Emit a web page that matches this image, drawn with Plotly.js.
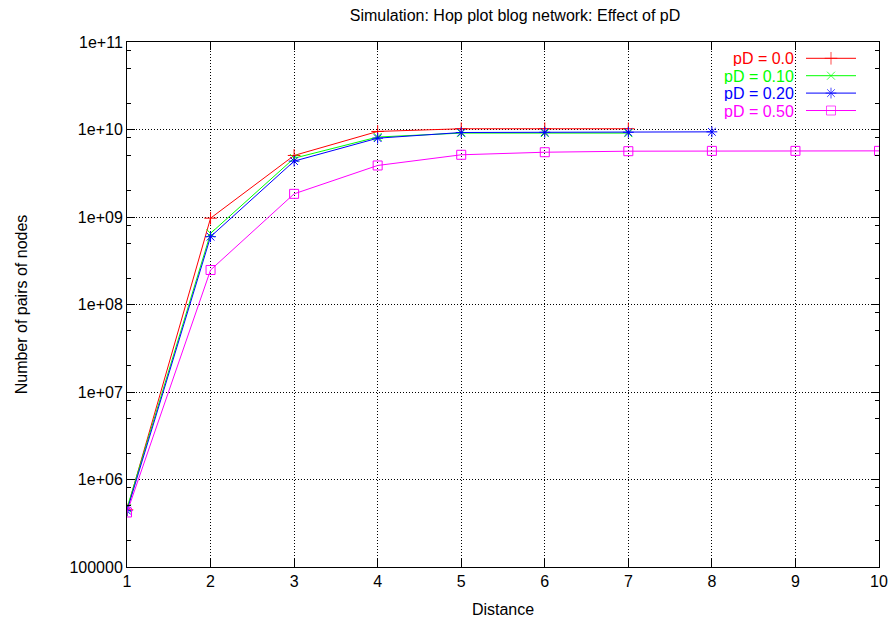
<!DOCTYPE html>
<html>
<head>
<meta charset="utf-8">
<script src="https://cdn.plot.ly/plotly-3.0.1.min.js"></script>
<style>html,body{margin:0;padding:0;background:#fff;}#chart{width:893px;height:623px;}</style>
</head>
<body>
<div id="chart"></div>
<script>
// ---- data ----
var distance = [1, 2, 3, 4, 5, 6, 7, 8, 9, 10];
var seriesNames = ['pD = 0.0', 'pD = 0.10', 'pD = 0.20', 'pD = 0.50'];
var pD000 = [4.5e5, 9.7e8, 5.05e9, 9.5e9, 1.02e10, 1.02e10, 1.02e10];
var pD010 = [4.7e5, 6.5e8, 4.7e9, 8.2e9, 9.1e9, 9.1e9, 9.1e9];
var pD020 = [4.4e5, 5.96e8, 4.35e9, 7.96e9, 9.24e9, 9.3e9, 9.3e9, 9.4e9];
var pD050 = [4.2e5, 2.48e8, 1.84e9, 3.88e9, 5.14e9, 5.5e9, 5.65e9, 5.7e9, 5.7e9, 5.7e9];
var yTickVals = [1e5, 1e6, 1e7, 1e8, 1e9, 1e10, 1e11];
var yTickText = ['100000', '1e+06', '1e+07', '1e+08', '1e+09', '1e+10', '1e+11'];
var xTickVals = [1, 2, 3, 4, 5, 6, 7, 8, 9, 10];
var minorDigits = [2, 5, 8];

// ---- styles ----
var colors = ['#ff0000', '#00ff00', '#0000ff', '#ff00ff'];
var symbols = ['cross-thin', 'x-thin', 'asterisk', 'square-open'];
var sizes = [9, 8, 9, 9];
var allSeries = [pD000, pD010, pD020, pD050];

var minorVals = [];
for (var d = 5; d < 11; d++) {
  minorDigits.forEach(function (m) { minorVals.push(m * Math.pow(10, d)); });
}

var traces = [];
allSeries.forEach(function (s, i) {
  traces.push({
    x: distance.slice(0, s.length), y: s, type: 'scatter', mode: 'lines+markers',
    name: seriesNames[i], showlegend: false,
    line: {color: colors[i], width: 1},
    marker: {symbol: symbols[i], size: sizes[i], color: colors[i],
             line: {color: colors[i], width: 1}}
  });
});

// custom legend (sample lines to the right of right-aligned labels), pixel coords on overlay axes
var legRows = [58.3, 75.7, 93.1, 110.5];
var annotations = [];
seriesNames.forEach(function (n, i) {
  traces.push({
    x: [806, 831, 856], y: [legRows[i], legRows[i], legRows[i]],
    xaxis: 'x2', yaxis: 'y2', type: 'scatter', mode: 'lines+markers', showlegend: false,
    hoverinfo: 'skip',
    line: {color: colors[i], width: 1},
    marker: {symbol: symbols[i], size: [0, sizes[i], 0], color: colors[i],
             line: {color: colors[i], width: 1}}
  });
  annotations.push({
    xref: 'x2', yref: 'y2', x: 795, y: legRows[i], xanchor: 'right', yanchor: 'middle',
    height: 16, borderpad: 0,
    text: n, showarrow: false, font: {family: 'Liberation Sans, Arial, sans-serif', size: 16, color: colors[i]}
  });
});

var font = {family: 'Liberation Sans, Arial, sans-serif', size: 16, color: '#000'};

var layout = {
  width: 893, height: 623,
  margin: {l: 127, r: 14, t: 42, b: 56},
  paper_bgcolor: '#fff', plot_bgcolor: '#fff',
  font: font,
  showlegend: false,
  title: {text: 'Simulation: Hop plot blog network: Effect of pD', font: {family: font.family, size: 16},
          x: 0.516, xref: 'paper', y: 0.975, yref: 'container', xanchor: 'center', yanchor: 'middle'},
  xaxis: {
    range: [1, 10], tickvals: xTickVals, ticktext: xTickVals.map(String),
    ticks: 'inside', ticklen: 8, tickcolor: '#000', tickwidth: 1,
    showline: true, linecolor: '#000', linewidth: 1, mirror: 'ticks',
    showgrid: true, gridcolor: '#000', griddash: '1px,2px', gridwidth: 1,
    zeroline: false, tickfont: font,
    title: {text: 'Distance', font: font, standoff: 14}
  },
  yaxis: {
    type: 'log', range: [5, 11], tickvals: yTickVals, ticktext: yTickText,
    ticks: 'inside', ticklen: 8, tickcolor: '#000', tickwidth: 1,
    showline: true, linecolor: '#000', linewidth: 1, mirror: 'ticks',
    showgrid: true, gridcolor: '#000', griddash: '1px,2px', gridwidth: 1,
    zeroline: false, tickfont: font,
    minor: {tickmode: 'array', tickvals: minorVals, ticks: 'inside', ticklen: 4, tickcolor: '#000', showgrid: false},
    title: {text: 'Number of pairs of nodes', font: font, standoff: 37}
  },
  xaxis2: {overlaying: 'x', range: [127, 879], visible: false, fixedrange: true},
  yaxis2: {overlaying: 'y', range: [567, 42], visible: false, fixedrange: true},
  annotations: annotations
};

Plotly.newPlot('chart', traces, layout, {displayModeBar: false, staticPlot: true});
</script>
</body>
</html>
